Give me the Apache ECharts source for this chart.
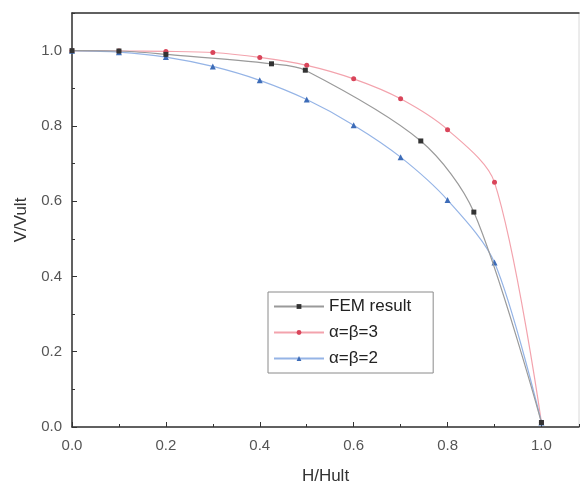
<!DOCTYPE html>
<html><head><meta charset="utf-8">
<script src="https://cdn.jsdelivr.net/npm/echarts@6/dist/echarts.min.js"></script>
<style>html,body{margin:0;padding:0;background:#fff}#c{width:581px;height:486px}</style>
</head><body><div id="c"></div>
<script>
const seriesNames = ['FEM result', 'α=β=3', 'α=β=2'];
const femX = [0, 0.1, 0.2, 0.425, 0.497, 0.743, 0.856, 1.0];
const femY = [1.0, 0.999, 0.99, 0.965, 0.948, 0.760, 0.571, 0.012];
const ab3X = [0, 0.1, 0.2, 0.3, 0.4, 0.5, 0.6, 0.7, 0.8, 0.9, 1.0];
const ab3Y = [1.0, 0.999, 0.998, 0.995, 0.982, 0.961, 0.925, 0.872, 0.790, 0.650, 0.012];
const ab2X = [0, 0.1, 0.2, 0.3, 0.4, 0.5, 0.6, 0.7, 0.8, 0.9, 1.0];
const ab2Y = [1.0, 0.996, 0.983, 0.958, 0.921, 0.870, 0.802, 0.717, 0.603, 0.437, 0.012];
const xTitle = 'H/Hult';
const yTitle = 'V/Vult';

const pair = (xs, ys) => xs.map((x, i) => [x, ys[i]]);
const font = 'Liberation Sans, Arial, sans-serif';
const chart = echarts.init(document.getElementById('c'), null, {renderer: 'canvas'});
const axisCommon = {
  type: 'value', min: 0,
  splitLine: {show: false},
};
chart.setOption({
  animation: false,
  backgroundColor: '#fff',
  grid: {left: 72, top: 13, right: 2, bottom: 59, containLabel: false, outerBoundsMode: 'none',
    show: true, borderColor: '#d8d8d8', borderWidth: 1},
  legend: {
    orient: 'vertical', left: 268, top: 292,
    borderColor: '#8a8a8a', borderWidth: 1, borderRadius: 0,
    padding: [6, 22, 6, 5], itemGap: 9, itemWidth: 50, itemHeight: 6,
    textStyle: {fontFamily: font, fontSize: 17, color: '#222'},
    data: seriesNames
  },
  xAxis: [
    Object.assign({}, axisCommon, {
      max: 1.08, interval: 0.2,
      name: xTitle, nameLocation: 'middle', nameGap: 41,
      nameTextStyle: {fontFamily: font, fontSize: 17, color: '#333'},
      axisLine: {lineStyle: {color: '#333', width: 1.5}},
      axisTick: {inside: true, length: 5, lineStyle: {color: '#333'}},
      axisLabel: {fontFamily: font, fontSize: 15, color: '#555', margin: 11, showMaxLabel: false,
        formatter: v => v.toFixed(1)}
    }),
    Object.assign({}, axisCommon, {
      max: 1.08, interval: 0.1, position: 'bottom',
      axisLine: {show: false},
      axisTick: {inside: true, length: 3, lineStyle: {color: '#333'}},
      axisLabel: {show: false}
    }),
    Object.assign({}, axisCommon, {
      max: 1.08, interval: 0.2, position: 'top',
      axisLine: {lineStyle: {color: '#333', width: 1.5}},
      axisTick: {show: false}, axisLabel: {show: false}
    })
  ],
  yAxis: [
    Object.assign({}, axisCommon, {
      max: 1.1, interval: 0.2,
      name: yTitle, nameLocation: 'middle', nameGap: 36, nameRotate: 90,
      nameTextStyle: {fontFamily: font, fontSize: 17, color: '#333'},
      axisLine: {lineStyle: {color: '#333', width: 1.5}},
      axisTick: {inside: true, length: 5, lineStyle: {color: '#333'}},
      axisLabel: {fontFamily: font, fontSize: 15, color: '#555', margin: 10, showMaxLabel: false,
        formatter: v => v.toFixed(1)}
    }),
    Object.assign({}, axisCommon, {
      max: 1.1, interval: 0.1, position: 'left',
      axisLine: {show: false},
      axisTick: {inside: true, length: 3, lineStyle: {color: '#333'}},
      axisLabel: {show: false}
    })
  ],
  series: [
    {name: seriesNames[0], type: 'line', data: pair(femX, femY), smooth: 0.3,
      symbol: 'rect', symbolSize: 5, showAllSymbol: true,
      lineStyle: {color: '#9a9a9a', width: 1.2}, itemStyle: {color: '#333'}, z: 3},
    {name: seriesNames[1], type: 'line', data: pair(ab3X, ab3Y), smooth: 0.3,
      symbol: 'circle', symbolSize: 5, showAllSymbol: true,
      lineStyle: {color: '#f3a3ad', width: 1.2}, itemStyle: {color: '#d9455a'}, z: 2},
    {name: seriesNames[2], type: 'line', data: pair(ab2X, ab2Y), smooth: 0.3,
      symbol: 'triangle', symbolSize: 6, showAllSymbol: true,
      lineStyle: {color: '#95b4e6', width: 1.2}, itemStyle: {color: '#3d6cb8'}, z: 2}
  ]
});
</script></body></html>
